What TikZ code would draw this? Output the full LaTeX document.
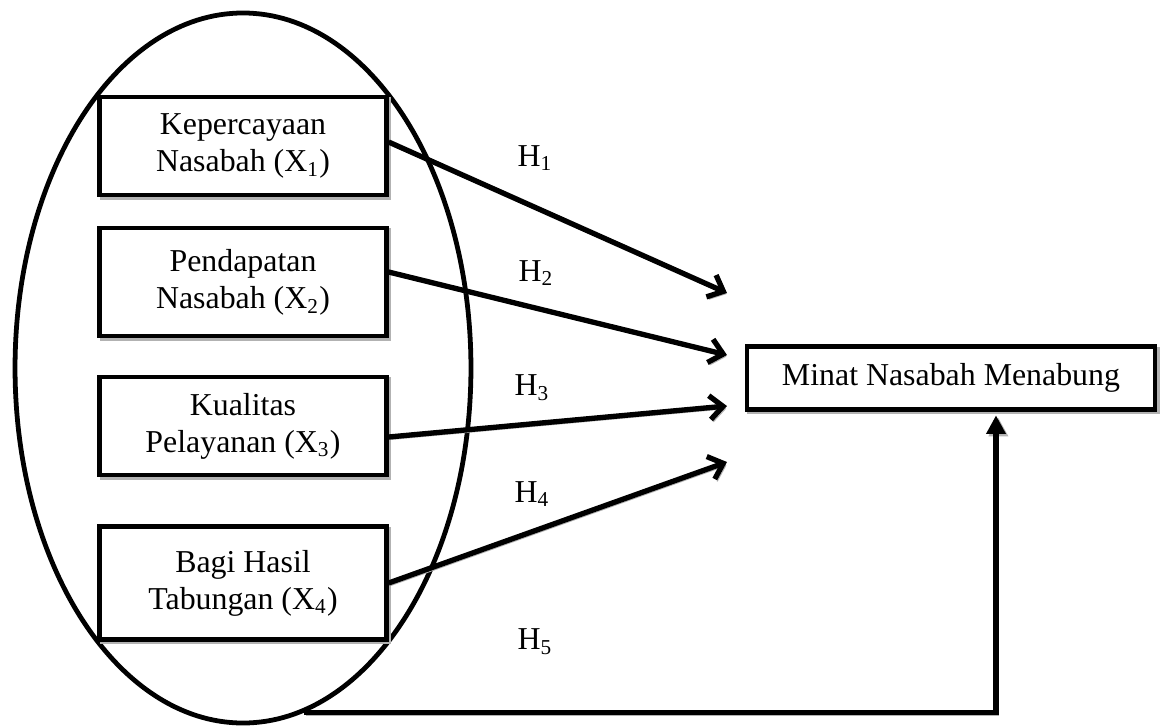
\documentclass[tikz,border=0pt]{standalone}
\usepackage{fontspec}
\setmainfont{Liberation Serif}
\usetikzlibrary{arrows.meta,shapes.geometric,calc}

\begin{document}
\begin{tikzpicture}[x=0.3766pt, y=-0.3766pt,
    dropshade/.style={preaction={draw=gray!60, transform canvas={shift={(0.9pt,-0.9pt)}}}},
    varbox/.style={draw, line width=1.7pt, fill=white, dropshade, minimum width=108pt,
      align=center, inner sep=0pt, font=\fontsize{12}{14}\selectfont},
    hyp/.style={line width=2pt, -{Straight Barb[length=5pt,width=9pt]}, dropshade},
    hlab/.style={font=\fontsize{12}{14}\selectfont}]
      \useasboundingbox (0,0) rectangle (1160,727);
      %
      \node[draw, ellipse, line width=1.8pt, minimum width=171.7pt, minimum height=267.4pt,
        inner sep=0pt] (grp) at (243,368) {};                        % group oval
      %
      \node[varbox, minimum height=36.9pt] (b1) at (243,146) {Kepercayaan\\Nasabah (X\textsubscript{1})};
      \node[varbox, minimum height=40.7pt] (b2) at (243,282) {Pendapatan\\Nasabah (X\textsubscript{2})};
      \node[varbox, minimum height=36.9pt] (b3) at (243,426) {Kualitas\\Pelayanan (X\textsubscript{3})};
      \node[varbox, minimum height=42.6pt] (b4) at (243,583) {Bagi Hasil\\Tabungan (X\textsubscript{4})};
      %
      \node[varbox, minimum width=153.7pt, minimum height=23.7pt] (mnt) at (951,378)
        {Minat Nasabah Menabung};                                    % dependent
      %
      \coordinate (t1) at (727,293);                                 % arrow tips
      \coordinate (t2) at (727,355);
      \coordinate (t3) at (727,406);
      \coordinate (t4) at (727,462);
      \coordinate (t5) at (996,410);
      %
      \draw[hyp] ($(b1.east)+(0,-4)$) -- (t1);
      \draw[hyp] ($(b2.east)+(0,-10)$) -- (t2);
      \draw[hyp] ($(b3.east)+(0,11)$) -- (t3);
      \draw[hyp] (b4.east) -- (t4);
      \draw[line width=2pt, -{Triangle[length=7pt,width=7pt]}, shorten >=2pt, dropshade]
        (grp.-80) -| (t5);                                           % simultaneous
      %
      \node[hlab] (h1) at (535,158) {H\textsubscript{1}};            % labels
      \node[hlab] (h2) at (536,273) {H\textsubscript{2}};
      \node[hlab] (h3) at (532,388) {H\textsubscript{3}};
      \node[hlab] (h4) at (532,494) {H\textsubscript{4}};
      \node[hlab] (h5) at (535,642) {H\textsubscript{5}};
      %
    \end{tikzpicture}
\end{document}
